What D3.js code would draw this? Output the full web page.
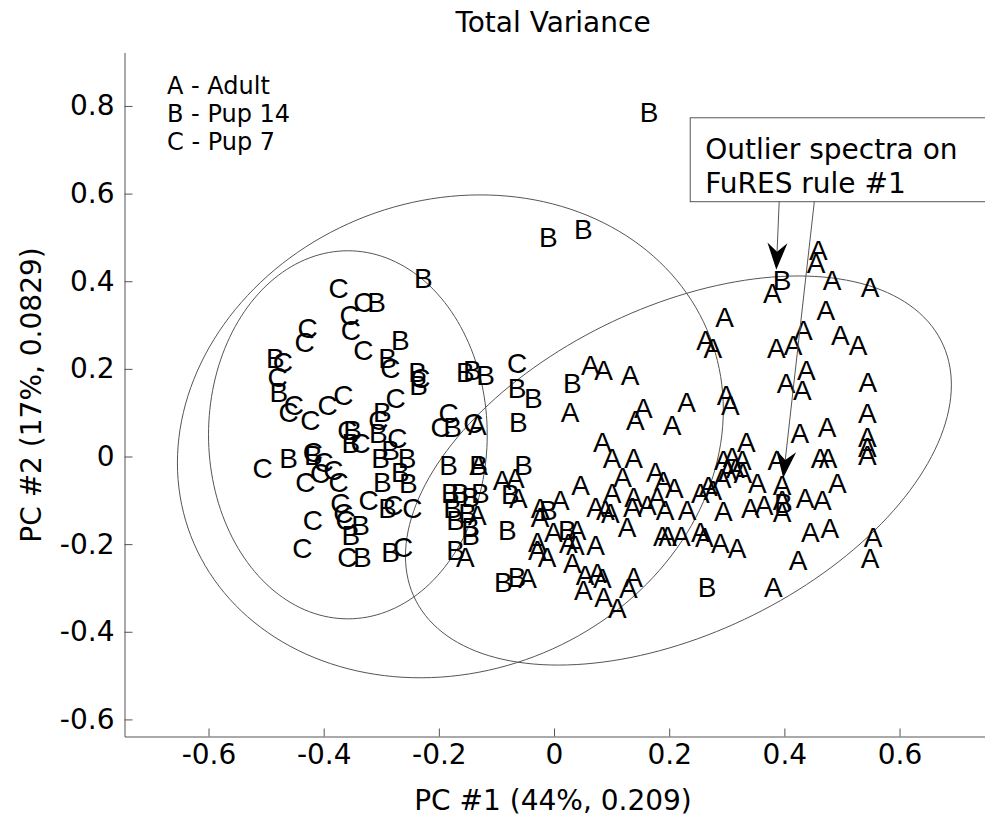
<!DOCTYPE html>
<html>
<head>
<meta charset="utf-8">
<script src="https://cdn.jsdelivr.net/npm/d3@7"></script>
<style>
  html, body { margin: 0; padding: 0; background: #fff; }
  svg { display: block; }
</style>
</head>
<body>
<svg id="chart" width="985" height="817"></svg>
<script>
// ---- scores on the first two principal components ----
const adultX = [0.459,0.455,0.379,0.483,0.549,0.472,0.296,0.433,0.497,0.528,0.263,0.276,0.386,0.415,0.438,0.403,0.431,0.545,0.299,0.306,0.230,0.544,0.063,0.086,0.132,0.028,0.155,0.141,0.205,-0.133,0.084,0.101,0.138,-0.131,-0.090,-0.067,0.046,0.119,0.176,0.190,0.209,0.334,0.427,0.474,0.544,0.544,0.544,0.387,0.462,0.476,0.492,0.294,0.309,0.327,0.302,0.315,0.328,0.353,0.254,0.268,0.276,0.292,0.396,0.396,0.396,0.436,0.466,0.101,0.138,0.162,0.089,0.098,0.127,0.193,0.231,0.294,0.341,0.365,0.188,0.197,0.221,0.254,0.261,0.289,0.318,0.445,0.479,0.424,0.554,0.549,0.381,0.138,0.129,0.086,0.110,0.051,0.054,0.075,0.084,0.032,0.025,0.037,0.072,-0.029,-0.029,-0.012,-0.001,0.040,-0.024,-0.024,0.011,0.072,0.136,0.179,-0.062,-0.046,-0.154,-0.133];
const adultY = [0.472,0.442,0.374,0.403,0.387,0.335,0.319,0.289,0.278,0.255,0.266,0.248,0.248,0.255,0.198,0.168,0.152,0.171,0.141,0.118,0.125,0.100,0.209,0.198,0.187,0.102,0.111,0.084,0.072,0.072,0.034,-0.003,-0.003,-0.019,-0.053,-0.049,-0.065,-0.046,-0.035,-0.055,-0.071,0.034,0.054,0.068,0.045,0.022,0.004,-0.008,-0.003,-0.003,-0.060,-0.008,-0.001,-0.008,-0.030,-0.026,-0.037,-0.060,-0.083,-0.067,-0.076,-0.049,-0.065,-0.099,-0.126,-0.094,-0.099,-0.083,-0.092,-0.110,-0.122,-0.129,-0.161,-0.122,-0.122,-0.124,-0.117,-0.110,-0.181,-0.181,-0.181,-0.172,-0.183,-0.197,-0.208,-0.172,-0.163,-0.236,-0.183,-0.231,-0.298,-0.275,-0.300,-0.320,-0.345,-0.304,-0.270,-0.266,-0.277,-0.243,-0.197,-0.202,-0.202,-0.195,-0.213,-0.229,-0.172,-0.167,-0.138,-0.117,-0.099,-0.115,-0.115,-0.092,-0.094,-0.277,-0.229,-0.133];

const pup14X = [0.165,-0.010,0.051,-0.227,0.396,-0.308,-0.267,-0.484,-0.478,-0.289,-0.237,-0.235,-0.154,-0.142,-0.119,-0.064,-0.036,0.032,-0.298,-0.176,-0.062,-0.350,-0.353,-0.305,-0.461,-0.418,-0.301,-0.284,-0.255,-0.267,-0.253,-0.298,-0.183,-0.131,-0.053,-0.076,-0.289,-0.336,-0.353,-0.333,-0.284,-0.180,-0.163,-0.145,-0.128,-0.176,-0.171,-0.150,-0.145,-0.145,-0.171,-0.081,-0.010,0.023,-0.088,-0.064,0.266,0.398];
const pup14Y = [0.787,0.502,0.520,0.408,0.403,0.353,0.266,0.225,0.148,0.225,0.193,0.164,0.193,0.198,0.187,0.157,0.134,0.168,0.102,0.068,0.079,0.061,0.031,0.054,-0.003,0.004,-0.003,0.015,-0.003,-0.035,-0.060,-0.058,-0.019,-0.019,-0.019,-0.085,-0.117,-0.156,-0.179,-0.229,-0.218,-0.083,-0.083,-0.092,-0.083,-0.117,-0.145,-0.129,-0.161,-0.179,-0.213,-0.167,-0.122,-0.167,-0.286,-0.275,-0.298,-0.106];

const pup7X = [-0.374,-0.331,-0.355,-0.353,-0.428,-0.433,-0.331,-0.471,-0.480,-0.284,-0.232,-0.064,-0.366,-0.393,-0.452,-0.461,-0.423,-0.275,-0.305,-0.183,-0.197,-0.140,-0.359,-0.336,-0.272,-0.506,-0.419,-0.400,-0.383,-0.432,-0.374,-0.406,-0.371,-0.366,-0.362,-0.322,-0.279,-0.246,-0.419,-0.437,-0.359,-0.262];
const pup7Y = [0.385,0.353,0.324,0.289,0.294,0.262,0.244,0.216,0.182,0.203,0.180,0.214,0.141,0.118,0.118,0.102,0.084,0.134,0.084,0.100,0.068,0.077,0.061,0.031,0.043,-0.026,0.011,-0.012,-0.030,-0.058,-0.058,-0.037,-0.106,-0.129,-0.145,-0.099,-0.110,-0.117,-0.145,-0.208,-0.229,-0.206];

// ---- group ellipses: centre, half-extent along each PC, coupling between PCs ----
const ellipseCx = [-0.358, -0.180, 0.216];
const ellipseCy = [0.0495, 0.046, -0.032];
const ellipseSx = [0.242, 0.474, 0.474];
const ellipseSy = [0.420, 0.551, 0.444];
const ellipseRho = [0.0, 0.11, 0.44];

// ---- axes ----
const xTicks = [-0.6, -0.4, -0.2, 0, 0.2, 0.4, 0.6];
const yTicks = [-0.6, -0.4, -0.2, 0, 0.2, 0.4, 0.6, 0.8];
const xDomain = [-0.7459, 0.7484];
const yDomain = [-0.639, 0.922];

// ---- text ----
const titleText = "Total Variance";
const xLabelText = "PC #1 (44%, 0.209)";
const yLabelText = "PC #2 (17%, 0.0829)";
const legendLines = ["A - Adult", "B - Pup 14", "C - Pup 7"];
const noteLines = ["Outlier spectra on", "FuRES rule #1"];

// ---- annotation, in data units ----
const noteBox = { x0: 0.2365, x1: 0.77, y0: 0.5815, y1: 0.773 };
const noteTextX = 0.2625;
const arrowStartX = [0.391, 0.452];
const arrowStartY = [0.5815, 0.5815];
const arrowTipX = [0.386, 0.398];
const arrowTipY = [0.426, -0.049];

const textFont = '"DejaVu Sans", Verdana, sans-serif';
const markFont = '"Liberation Sans", Arial, Helvetica, sans-serif';
const labelSize = 28;

const svg = d3.select("#chart");
const x = d3.scaleLinear().domain(xDomain).range([124.5, 985]);
const y = d3.scaleLinear().domain(yDomain).range([736.5, 52.5]);

const fmt = d => String(Math.round(d * 10) / 10);

// y axis (ticks pointing into the plot)
const gy = svg.append("g")
  .attr("transform", "translate(124.5,0)")
  .call(d3.axisLeft(y).tickValues(yTicks).tickFormat(fmt).tickSize(-8).tickSizeOuter(0).tickPadding(10));
// x axis
const gx = svg.append("g")
  .attr("transform", "translate(0,736.5)")
  .call(d3.axisBottom(x).tickValues(xTicks).tickFormat(fmt).tickSize(-8).tickSizeOuter(0).tickPadding(8));

[gx, gy].forEach(g => {
  g.attr("font-family", textFont).attr("font-size", labelSize);
  g.select(".domain").attr("stroke", "#555");
  g.selectAll(".tick line").attr("stroke", "#555");
  g.selectAll(".tick text").attr("fill", "#000");
});

// ellipses
const ts = d3.range(0, 361, 2).map(a => a * Math.PI / 180);
const ellipseLine = d3.line().x(p => x(p[0])).y(p => y(p[1]));
ellipseCx.forEach((cx, i) => {
  const s = Math.sqrt(1 - ellipseRho[i] * ellipseRho[i]);
  const pts = ts.map(t => [
    cx + ellipseSx[i] * Math.cos(t),
    ellipseCy[i] + ellipseSy[i] * (ellipseRho[i] * Math.cos(t) - s * Math.sin(t))
  ]);
  svg.append("path").attr("d", ellipseLine(pts))
    .attr("fill", "none").attr("stroke", "#555").attr("stroke-width", 1);
});

// letter markers
const groups = [
  { letter: "C", xs: pup7X, ys: pup7Y },
  { letter: "B", xs: pup14X, ys: pup14Y },
  { letter: "A", xs: adultX, ys: adultY }
];
groups.forEach(gr => {
  svg.append("g")
    .selectAll("text")
    .data(gr.xs.map((v, i) => [v, gr.ys[i]]))
    .join("text")
    .attr("x", d => x(d[0]))
    .attr("y", d => y(d[1]))
    .attr("dy", "0.36em")
    .attr("text-anchor", "middle")
    .attr("font-family", markFont)
    .attr("font-size", 28)
    .attr("fill", "#000")
    .text(gr.letter);
});

// legend text
svg.append("g").selectAll("text")
  .data(legendLines).join("text")
  .attr("x", 167)
  .attr("y", (d, i) => 94 + i * 28)
  .attr("font-family", textFont).attr("font-size", 24)
  .text(d => d);

// annotation box
svg.append("rect")
  .attr("x", x(noteBox.x0)).attr("y", y(noteBox.y1))
  .attr("width", x(noteBox.x1) - x(noteBox.x0))
  .attr("height", y(noteBox.y0) - y(noteBox.y1))
  .attr("fill", "#fff").attr("stroke", "#555");
svg.append("g").selectAll("text")
  .data(noteLines).join("text")
  .attr("x", x(noteTextX))
  .attr("y", (d, i) => 159 + i * 34)
  .attr("font-family", textFont).attr("font-size", labelSize)
  .text(d => d);

// arrows
arrowTipX.forEach((tx, i) => {
  const x0 = x(arrowStartX[i]), y0 = y(arrowStartY[i]);
  const x1 = x(tx), y1 = y(arrowTipY[i]);
  const len = Math.hypot(x1 - x0, y1 - y0);
  const ux = (x1 - x0) / len, uy = (y1 - y0) / len;
  const nx = -uy, ny = ux;
  const L = 27, Wd = 10, N = 9;
  svg.append("line").attr("x1", x0).attr("y1", y0).attr("x2", x1 - ux * (L - N)).attr("y2", y1 - uy * (L - N))
    .attr("stroke", "#555").attr("stroke-width", 1);
  const head = [
    [x1, y1],
    [x1 - ux * L + nx * Wd, y1 - uy * L + ny * Wd],
    [x1 - ux * (L - N), y1 - uy * (L - N)],
    [x1 - ux * L - nx * Wd, y1 - uy * L - ny * Wd]
  ];
  svg.append("polygon").attr("points", head.map(p => p.join(",")).join(" ")).attr("fill", "#000");
});

// title and axis labels
svg.append("text").attr("x", 553).attr("y", 32).attr("text-anchor", "middle")
  .attr("font-family", textFont).attr("font-size", labelSize).text(titleText);
svg.append("text").attr("x", 553).attr("y", 810).attr("text-anchor", "middle")
  .attr("font-family", textFont).attr("font-size", labelSize).text(xLabelText);
svg.append("text").attr("transform", "translate(41,395) rotate(-90)").attr("text-anchor", "middle")
  .attr("font-family", textFont).attr("font-size", labelSize).text(yLabelText);
</script>
</body>
</html>
